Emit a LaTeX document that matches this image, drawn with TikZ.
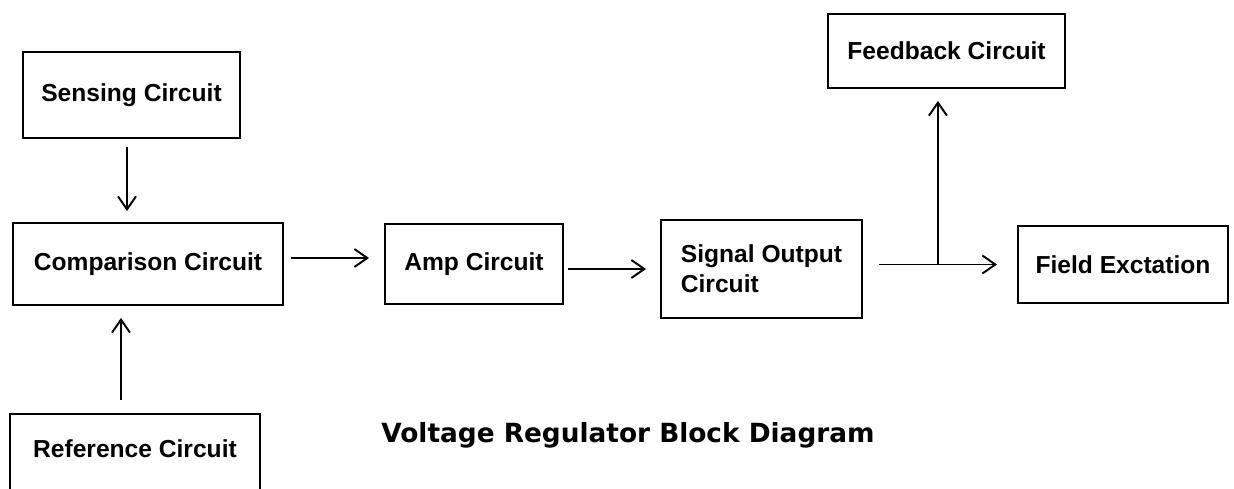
\documentclass[tikz,border=0pt]{standalone}
\usepackage{fontspec}
\setmainfont{Liberation Sans}
\newfontfamily\titlefont{DejaVu Sans}
\usetikzlibrary{arrows.meta}
\tikzset{
  arr/.style={line width=1.1pt, -{Straight Barb[length=2.6mm, width=3.6mm]}},
  blk/.style={draw, line width=1.1pt, inner sep=0pt, align=center,
    font=\fontsize{14}{17}\selectfont\bfseries},
  ttl/.style={font=\titlefont\fontsize{15}{18}\selectfont\bfseries},
}

\begin{document}
\begin{tikzpicture}[x=0.02cm, y=-0.02cm]
\useasboundingbox (0,0) rectangle (1234,489);

% blocks
\node[blk, minimum width=4.34cm, minimum height=1.72cm] (sense) at (131.5,95) {Sensing Circuit};
\node[blk, minimum width=5.4cm, minimum height=1.64cm] (comp) at (148,264) {Comparison Circuit};
\node[blk, minimum width=5.0cm, anchor=north, text height=0.88cm, text depth=1.4cm] (ref) at (135,413) {Reference Circuit};
\node[blk, minimum width=3.56cm, minimum height=1.6cm] (amp) at (474,264) {Amp Circuit};
\node[blk, minimum width=4.02cm, minimum height=1.96cm, align=left] (sig) at (761.5,269) {Signal Output\\Circuit};
\node[blk, minimum width=4.74cm, minimum height=1.48cm] (fb) at (946.5,51) {Feedback Circuit};
\node[blk, minimum width=4.2cm, minimum height=1.54cm] (field) at (1123,264.5) {Field Exctation};

\node[ttl] (title) at (628,435) {Voltage Regulator Block Diagram};

% connectors
\draw[arr, shorten <=0.16cm, shorten >=0.22cm] ([xshift=-0.09cm]sense.south) -- ([xshift=-0.09cm]sense.south |- comp.north);
\draw[arr, shorten <=0.26cm, shorten >=0.24cm] ([xshift=-0.28cm]ref.north) -- ([xshift=-0.28cm]ref.north |- comp.south);
\draw[arr, shorten <=0.14cm, shorten >=0.3cm] ([yshift=0.12cm]comp.east) -- ([yshift=0.12cm]comp.east -| amp.west);
\draw[arr, shorten <=0.08cm, shorten >=0.28cm] (amp.east |- sig.west) -- (sig.west);
\draw[arr, shorten <=0.32cm, shorten >=0.4cm] (sig.east |- field.west) -- (field.west);
\coordinate (split) at ([xshift=1.5cm]sig.east |- field.west);
\draw[arr, shorten >=0.24cm] (split) -- (split |- fb.south);

\end{tikzpicture}
\end{document}
